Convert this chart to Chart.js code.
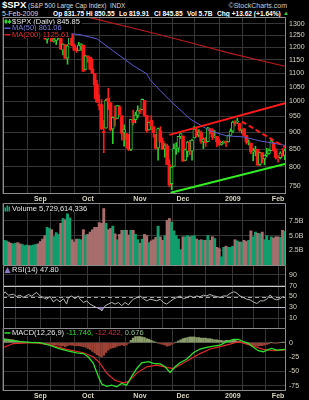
<!DOCTYPE html>
<html>
<head>
<meta charset="utf-8">
<script src="https://cdn.jsdelivr.net/npm/chart.js@4.4.1/dist/chart.umd.min.js"></script>
<style>
  html, body { margin: 0; padding: 0; background: #000; }
  body { position: relative; width: 309px; height: 400px; overflow: hidden; font-family: "Liberation Sans", Arial, sans-serif; }
  .t { position: absolute; white-space: nowrap; line-height: 7px; font-size: 7px; color: #ddd; }
  .b { font-weight: bold; color: #fff; font-size: 6.6px; }
  canvas { position: absolute; left: 0; }
</style>
</head>
<body>
<div class="t" style="left:2px;top:0px;font-size:9.5px;line-height:10px;font-weight:bold;color:#fff">$SPX</div>
<div class="t" style="left:28px;top:2px;font-size:6.4px">(S&amp;P 500 Large Cap Index)</div>
<div class="t" style="left:110px;top:2px;font-size:6.4px">INDX</div>
<div class="t" style="right:22px;top:2px;color:#ccc">©StockCharts.com</div>
<div class="t" style="left:2px;top:9.5px">5-Feb-2009</div>
<div class="t b" style="left:53px;top:9.5px">Op 831.75</div>
<div class="t b" style="left:86px;top:9.5px">Hi 850.55</div>
<div class="t b" style="left:119px;top:9.5px">Lo 819.91</div>
<div class="t b" style="left:154px;top:9.5px">Cl 845.85</div>
<div class="t b" style="left:187px;top:9.5px">Vol 5.7B</div>
<div class="t b" style="left:217px;top:9.5px">Chg +13.62 (+1.64%)</div>
<div class="t" style="left:283px;top:9.5px;color:#2ecc2e;font-size:6px">▲</div>

<canvas id="price" width="309" height="187" style="top:16px"></canvas>
<canvas id="vol" width="309" height="63" style="top:202px"></canvas>
<canvas id="rsi" width="309" height="64" style="top:264px"></canvas>
<canvas id="macd" width="309" height="73" style="top:327px"></canvas>

<script>
// trading days, 8 Aug 2008 .. 5 Feb 2009
const dates = [
  '8/8','8/11','8/12','8/13','8/14','8/15','8/18','8/19','8/20','8/21','8/22','8/25','8/26','8/27','8/28','8/29',
  '9/2','9/3','9/4','9/5','9/8','9/9','9/10','9/11','9/12','9/15','9/16','9/17','9/18','9/19','9/22','9/23','9/24','9/25','9/26','9/29','9/30',
  '10/1','10/2','10/3','10/6','10/7','10/8','10/9','10/10','10/13','10/14','10/15','10/16','10/17','10/20','10/21','10/22','10/23','10/24','10/27','10/28','10/29','10/30','10/31',
  '11/3','11/4','11/5','11/6','11/7','11/10','11/11','11/12','11/13','11/14','11/17','11/18','11/19','11/20','11/21','11/24','11/25','11/26','11/28',
  '12/1','12/2','12/3','12/4','12/5','12/8','12/9','12/10','12/11','12/12','12/15','12/16','12/17','12/18','12/19','12/22','12/23','12/24','12/26','12/29','12/30','12/31',
  '1/2','1/5','1/6','1/7','1/8','1/9','1/12','1/13','1/14','1/15','1/16','1/20','1/21','1/22','1/23','1/26','1/27','1/28','1/29','1/30',
  '2/2','2/3','2/4','2/5'
];

const opens = [
  1266.3,1294.4,1304.8,1288.6,1282.1,1293.0,1298.1,1276.7,1267.3,1271.1,1277.6,1290.5,1267.0,1271.3,1283.8,1296.5,
  1287.8,1276.6,1271.8,1233.2,1249.5,1267.9,1227.5,1229.0,1245.9,1250.9,1188.3,1210.3,1157.1,1213.1,1255.4,1207.6,1188.8,1187.9,1204.5,1209.1,1113.8,
  1164.2,1160.6,1115.2,1097.6,1057.6,988.9,988.4,902.3,912.8,1010.0,994.6,910.0,942.3,943.5,980.4,951.7,899.1,895.2,874.3,848.9,939.5,939.4,953.1,
  968.7,971.3,1001.8,952.4,907.4,936.8,917.2,893.4,853.1,904.4,873.2,852.3,859.0,805.9,755.8,801.2,853.4,852.9,886.9,
  888.6,817.9,843.6,869.8,844.4,882.7,906.5,892.2,898.4,871.5,881.1,871.5,908.2,906.0,887.0,887.2,874.3,863.9,869.5,872.4,870.6,890.6,
  903.0,929.2,931.2,927.5,905.7,909.9,890.4,869.8,867.3,842.0,844.5,849.6,806.8,839.7,822.2,832.5,837.3,845.7,868.9,845.7,
  823.1,825.7,837.8,831.75
];
const highs = [
  1297.9,1313.2,1304.8,1294.0,1300.1,1302.0,1300.2,1276.7,1276.0,1281.0,1293.1,1290.5,1275.7,1289.3,1300.7,1296.5,
  1303.0,1280.6,1271.8,1244.9,1274.4,1268.7,1243.9,1249.1,1255.1,1250.9,1214.8,1210.3,1211.1,1265.1,1255.4,1214.1,1197.4,1221.0,1215.8,1209.1,1168.0,
  1167.0,1160.6,1153.8,1097.6,1072.9,1021.1,1005.3,936.4,1006.9,1044.3,994.6,947.7,984.4,985.4,985.4,951.7,922.8,896.3,893.8,940.5,970.0,963.2,984.4,
  975.5,1007.5,1001.8,952.4,931.5,952.0,917.2,893.4,913.0,916.9,882.3,865.9,864.6,820.5,801.2,865.6,868.9,887.7,896.3,
  888.6,850.5,873.1,875.6,879.4,918.6,916.3,908.3,904.6,883.2,884.6,914.7,911.9,911.0,905.5,887.4,880.4,869.8,873.7,873.7,891.1,910.3,
  934.7,936.6,943.9,927.5,910.0,911.9,890.4,877.0,867.3,851.6,858.1,849.6,841.7,839.7,833.0,852.5,850.5,877.9,868.9,851.7,
  830.8,842.6,851.9,850.55
];
const lows = [
  1262.1,1292.8,1285.6,1274.9,1276.8,1290.7,1274.5,1263.1,1261.2,1265.0,1277.6,1264.9,1263.2,1267.8,1283.8,1282.8,
  1272.2,1265.6,1232.8,1217.2,1247.1,1224.5,1221.6,1211.5,1233.8,1192.7,1169.3,1155.9,1133.5,1213.1,1205.6,1187.8,1179.8,1187.9,1187.5,1106.4,1113.8,
  1140.8,1111.4,1098.1,1008.0,996.2,971.0,909.2,839.8,912.8,972.1,904.0,865.8,918.7,943.5,952.5,875.8,858.4,852.9,845.8,845.3,922.3,928.9,944.6,
  958.8,971.3,949.9,899.7,906.5,907.5,884.9,850.5,818.7,869.9,849.0,826.8,806.2,747.8,741.0,801.2,835.0,841.4,881.2,
  815.7,817.9,827.6,833.6,818.4,882.7,885.4,885.5,866.8,851.4,857.7,871.5,895.7,877.4,883.0,857.1,860.1,861.4,866.5,857.1,870.6,889.4,
  899.4,919.5,927.3,902.4,896.8,888.3,864.3,862.0,836.9,817.0,830.7,804.5,804.3,811.3,806.1,827.7,835.4,845.7,844.0,821.7,
  812.9,822.0,829.2,819.91
];
const closes = [
  1296.3,1305.3,1289.6,1285.8,1292.9,1298.2,1278.6,1266.7,1274.5,1277.7,1292.2,1266.8,1271.5,1281.7,1300.7,1282.8,
  1277.6,1275.0,1236.8,1242.3,1267.8,1224.5,1232.0,1249.1,1251.7,1192.7,1213.6,1156.4,1206.5,1255.1,1207.1,1188.2,1185.9,1209.2,1213.3,1106.4,1166.4,
  1161.1,1114.3,1099.2,1056.9,996.2,984.9,909.9,899.2,1003.4,998.0,907.8,946.4,940.6,985.4,955.1,896.8,908.1,876.8,848.9,940.5,930.1,954.1,968.8,
  966.3,1005.8,952.8,904.9,931.0,919.2,899.0,852.3,911.3,873.3,850.8,859.1,806.6,752.4,800.0,851.8,857.4,887.7,896.2,
  816.2,848.8,870.7,845.2,876.1,909.7,888.7,899.2,873.6,879.7,868.6,913.2,904.4,885.3,887.9,871.6,863.2,868.2,872.8,869.4,890.6,903.3,
  931.8,927.5,934.7,906.7,909.7,890.4,870.3,871.8,842.6,843.7,850.1,805.2,840.2,827.5,832.0,836.6,845.7,874.1,845.1,825.9,
  825.4,838.5,832.2,845.85
];
const prevClose = 1266.1;

// volume in billions
const volumes = [
  4.2,4.1,3.9,3.7,3.6,3.7,3.8,3.6,3.5,3.3,3.4,3.3,3.3,3.4,3.5,3.6,
  4.0,4.4,5.0,6.4,6.2,6.0,4.8,5.5,5.2,7.1,7.9,7.7,8.7,8.0,4.3,3.9,4.4,4.4,4.3,6.0,5.1,
  5.2,5.6,6.0,6.4,6.4,7.2,7.1,9.6,7.1,6.0,6.2,6.6,5.3,4.3,5.2,5.9,5.9,5.9,5.1,5.9,5.9,5.2,4.3,
  3.7,4.4,5.2,5.0,3.8,4.1,4.3,4.7,6.6,4.8,4.2,5.0,7.6,7.9,7.3,5.8,5.0,4.4,2.6,
  4.8,4.8,5.0,4.8,4.9,5.0,4.4,4.2,4.3,4.2,4.2,5.0,4.2,4.8,4.5,3.0,2.8,1.4,3.0,3.2,3.0,3.0,
  3.2,4.3,4.1,3.9,3.9,4.2,4.0,4.2,5.8,4.8,5.6,5.4,5.3,5.6,4.3,5.0,4.2,4.8,4.6,4.8,
  4.8,4.7,5.9,5.7
];

// [day index, value]
const ma50 = [[0,1268],[12,1268],[23,1263],[33.5,1253],[41,1235],[48,1187],[57,1128],[63,1097],[64.5,1075],[69,1036],[73.3,1002],[82,942],[91,904],[98.3,889],[105.5,886],[113,874],[124,861]];
const ma200 = [[20,1373],[38,1327],[64.4,1263],[82,1220],[100,1176],[124,1125.6]];
const resistance = [[73,892],[124.5,994]];
const falling = [[105,933],[124.5,854]];
const support = [[73.5,733],[124.5,809]];

const rsi = [[0,55.6],[0.4,58.6],[1.9,52.5],[4.1,54.3],[5.5,50],[7,52.5],[8.5,48],[10.7,53.7],[12.2,50.6],[13.6,55.6],[14.4,57.4],[15.8,51.2],[17.3,48],[18.8,45],[20.3,50],[21.7,40],[23.2,45],[24.7,40],[26.2,46],[27.6,36],[28.4,48],[29.8,51],[31.3,46],[32.8,51],[33.5,45],[35,39],[36.5,42],[37.9,36],[39.4,32.7],[40.9,29.6],[42.4,26.5],[43.1,23.5],[43.8,27.8],[44.6,32.7],[46,36],[47.5,39],[49,36],[50.5,39],[51.9,33],[53.4,39],[54.9,34.6],[56.3,42],[57.1,45],[58.6,48],[60,51],[61.5,46],[63,42],[64.4,45],[65.9,43.8],[67.4,42],[68.9,45],[70.3,39],[71.8,36],[73.3,40.7],[74.7,45],[76.2,48],[77.7,51],[79.2,46],[80.6,48],[82.1,51],[83.6,48],[85.1,51],[86.5,49.4],[88,52.5],[89.5,51.2],[90.9,53.7],[92.4,51.2],[93.9,50],[95.4,48],[96.8,51],[98.3,51],[99.8,55.6],[101.3,58.6],[102.4,57.4],[104.2,51],[105.7,48],[107.2,45],[108.6,43.8],[110.1,40],[111.6,37],[113.1,42],[114.5,42],[116,45],[117.5,53],[118.9,46],[120.4,43.8],[121.9,46],[123.3,50],[124,47.8]];

const macd = [[0,5.9],[2.6,4],[7,2],[12.9,0],[15.8,0],[20.3,-4.5],[23.9,-10],[27.6,-14],[32,-17.6],[35,-19],[37.2,-25],[39.4,-36],[41.6,-59],[43.1,-72],[45.3,-76],[47.5,-74],[49.7,-77],[51.9,-71],[54.1,-74],[56.3,-59],[58.6,-45],[60.8,-35],[63.7,-33],[65.9,-36],[68.9,-37],[71.1,-42],[73.3,-52],[75.5,-42],[77.7,-35],[80.6,-29],[83.6,-17.6],[86.5,-11],[89.5,-8],[92.4,-5.8],[95.4,-4.1],[98.3,1.7],[101.3,5.8],[103.5,5.8],[105.7,1.7],[107.9,-1.3],[110.1,-8],[112.3,-14],[114.5,-15.8],[116,-12.9],[118.2,-10],[120.4,-12.9],[124,-11.7]];
const signal = [[0,-8],[4,-1.5],[13,0],[20,-3.5],[27.6,-11.7],[35,-17.6],[39.4,-24.6],[42.4,-36],[45.3,-53],[49,-66],[52.7,-70],[54.9,-68],[58.6,-53],[63,-42],[67.4,-39],[71.8,-43],[74.7,-45],[78.4,-37],[82.1,-29],[86.5,-19],[91,-11],[95.4,-7],[99.8,-2.5],[103.5,1.7],[107.2,-2.5],[110.8,-7],[114.5,-11.7],[119,-14],[124,-12.4]];
const hist = [
  7,6.5,6,5.5,5,4,
  3,2,1.5,1,0.5,0.5,0,0.5,0.5,0,-0.5,
  -1,-1.5,-2,-2.5,-3,-3.5,-4,-4.5,-6,-5.5,-7,-5,-4,-4.5,-5,-5.5,-5.5,-6,-7,
  -8,-10,-12,-15,-18,-21,-23,-25,-22,-17,-13,-10,-9,-8,-6,-5,-4,-5,-4,-1,
  4,8,11,12,12,10,9,7,6,4,2,1,
  -1,-2,-3,-4,-6,-5,-3,-1,1,
  3,5,7,8,9,10,10,10,9,9,8,8,8,7,7,6,5,5,4,4,3,4,4,3,
  4,4,3,2,0,
  -1,-2,-3,-4,-5,-6,-6,-5,-5,-4,-3,-2,0,-1,-1,
  -0.5,0,0.5,0.7
];

const priceTicks = [750,800,850,900,950,1000,1050,1100,1150,1200,1250,1300];
const volumeTicks = [2.5,5,7.5];
const rsiTicks = [10,30,50,70,90];
const macdTicks = [0,-25,-50,-75];
const monthTicks = [16,37,60,79,101,121];
const monthLabels = ['Sep','Oct','Nov','Dec','2009','Feb'];
const midTicks = [5,25,47,70,89,110];

const FONT = '"Liberation Sans", Arial, sans-serif';
const GRID = '#363636', FRAME = '#8c8c8c', TXT = '#d8d4c0';
const UP = '#2ecc2e', DOWN = '#ff1a1a';

const pts = arr => arr.map(p => ({ x: p[0], y: p[1] }));
const colorOf = i => closes[i] >= (i ? closes[i - 1] : prevClose) ? UP : DOWN;

function xAxis(labels) {
  return {
    type: 'linear', min: -0.5, max: 124.5, offset: false,
    afterBuildTicks: s => { s.ticks = monthTicks.concat(midTicks).sort((a, b) => a - b).map(v => ({ value: v })); },
    ticks: {
      display: labels, autoSkip: false, maxRotation: 0, padding: 1, color: TXT,
      font: { family: FONT, size: 7, weight: 'bold' },
      callback: v => { const k = monthTicks.indexOf(v); return k < 0 ? '' : monthLabels[k]; }
    },
    grid: { color: GRID, drawTicks: false },
    border: { display: false },
    afterFit: s => { s.height = labels ? 9 : 0; s.paddingLeft = 0; s.paddingRight = 0; }
  };
}
function yAxis(type, min, max, ticks, fmt) {
  return {
    type: type, position: 'right', min: min, max: max,
    afterBuildTicks: s => { s.ticks = ticks.map(v => ({ value: v })); },
    ticks: { autoSkip: false, padding: 3, color: TXT, font: { family: FONT, size: 7 }, callback: fmt },
    grid: { color: GRID, drawTicks: false },
    border: { display: false },
    afterFit: s => { s.width = 23; s.paddingTop = 0; s.paddingBottom = 0; }
  };
}

// frame + panel title rows
function panel(rows, bottomLine) {
  return {
    id: 'panel',
    afterDraw(chart) {
      const ctx = chart.ctx, a = chart.chartArea;
      ctx.save();
      ctx.strokeStyle = FRAME; ctx.lineWidth = 1;
      ctx.beginPath();
      ctx.moveTo(a.left + 0.5, a.bottom); ctx.lineTo(a.left + 0.5, a.top + 0.5);
      ctx.lineTo(a.right - 0.5, a.top + 0.5); ctx.lineTo(a.right - 0.5, a.bottom);
      if (bottomLine) { ctx.moveTo(a.left, a.bottom - 0.5); ctx.lineTo(a.right, a.bottom - 0.5); }
      ctx.stroke();
      ctx.font = '7.5px ' + FONT; ctx.textBaseline = 'middle';
      rows.forEach(r => {
        const y = a.top + r.dy;
        let w = 0;
        r.parts.forEach(p => { w += ctx.measureText(p[0]).width; });
        ctx.fillStyle = '#000';
        ctx.fillRect(a.left + 1, y - 3.5, w + 10, 7);
        r.icon(ctx, a.left + 1, y);
        let x = a.left + 9;
        r.parts.forEach(p => { ctx.fillStyle = p[1]; ctx.fillText(p[0], x, y); x += ctx.measureText(p[0]).width; });
      });
      ctx.restore();
    }
  };
}
const lineIcon = c => (ctx, x, y) => { ctx.fillStyle = c; ctx.fillRect(x + 0.5, y - 0.5, 6, 1.5); };
const candleIcon = (ctx, x, y) => {
  ctx.fillStyle = UP;
  ctx.fillRect(x + 1.5, y - 3, 1, 6); ctx.fillRect(x + 0.5, y - 1.5, 3, 3);
  ctx.fillRect(x + 5, y - 2.5, 1, 5); ctx.fillRect(x + 4, y - 1, 3, 2.5);
};
const volIcon = (ctx, x, y) => {
  ctx.fillStyle = '#19a874';
  ctx.fillRect(x + 0.5, y - 1, 1.5, 4); ctx.fillRect(x + 2.5, y - 3, 1.5, 6); ctx.fillRect(x + 4.5, y - 2, 1.5, 5);
};
const rsiIcon = (ctx, x, y) => {
  ctx.fillStyle = '#8a78c0';
  ctx.beginPath(); ctx.moveTo(x + 0.5, y + 3); ctx.lineTo(x + 3.5, y - 3); ctx.lineTo(x + 6.5, y + 3); ctx.closePath(); ctx.fill();
};

const base = {
  responsive: false, animation: false, events: [],
  plugins: { legend: { display: false }, tooltip: { enabled: false } }
};
const line = (data, color, width, extra) => Object.assign({
  type: 'line', data: pts(data), borderColor: color, borderWidth: width, pointRadius: 0, tension: 0, fill: false
}, extra || {});

// price panel
new Chart(document.getElementById('price'), {
  type: 'bar',
  data: { datasets: [
    line(resistance, '#ff1a1a', 2, { order: 0 }),
    line(falling, '#ff1a1a', 2, { order: 0, borderDash: [5, 3] }),
    line(support, '#33ee22', 2, { order: 0 }),
    line(ma50, '#5a5ad2', 1, { order: 1 }),
    line(ma200, '#b81c1c', 1.2, { order: 1 }),
    {
      data: closes.map((c, i) => ({ x: i, y: [opens[i], c] })),
      backgroundColor: closes.map((c, i) => c > opens[i] ? '#000' : colorOf(i)),
      borderColor: closes.map((c, i) => colorOf(i)),
      borderWidth: closes.map((c, i) => c > opens[i] ? 1 : 0),
      borderSkipped: false, barThickness: 3, grouped: false, order: 2
    },
    {
      data: closes.map((c, i) => ({ x: i, y: [lows[i], highs[i]] })),
      backgroundColor: closes.map((c, i) => colorOf(i)),
      barThickness: 1, grouped: false, order: 3
    }
  ]},
  options: Object.assign({}, base, {
    layout: { padding: { left: 3, top: 1, right: 0, bottom: 0 } },
    scales: { x: xAxis(true), y: yAxis('logarithmic', 730, 1330, priceTicks, v => String(v)) }
  }),
  plugins: [panel([
    { dy: 4.5, icon: candleIcon, parts: [['$SPX (Daily) 845.85', '#e8e8e8']] },
    { dy: 11, icon: lineIcon('#5a5ad2'), parts: [['MA(50) 861.06', '#7c7ce0']] },
    { dy: 17.5, icon: lineIcon('#d02020'), parts: [['MA(200) 1125.61', '#e83030']] }
  ], true)]
});

// volume panel
new Chart(document.getElementById('vol'), {
  type: 'bar',
  data: { datasets: [{
    data: volumes.map((v, i) => ({ x: i, y: v })),
    backgroundColor: volumes.map((v, i) => colorOf(i) === UP ? '#0f9e6c' : '#a86e6e'),
    barPercentage: 1, categoryPercentage: 1
  }]},
  options: Object.assign({}, base, {
    layout: { padding: { left: 3, top: 1, right: 0, bottom: 0 } },
    scales: { x: xAxis(false), y: yAxis('linear', 0, 10.54, volumeTicks, v => v.toFixed(1) + 'B') }
  }),
  plugins: [panel([{ dy: 5.5, icon: volIcon, parts: [['Volume 5,729,614,336', '#e8e8e8']] }], false)]
});

// RSI panel
const rsiGuides = {
  id: 'rsiGuides',
  beforeDatasetsDraw(chart) {
    const ctx = chart.ctx, a = chart.chartArea, y = chart.scales.y;
    ctx.save(); ctx.lineWidth = 1;
    [[70, '#c8c8c8', []], [30, '#c8c8c8', []], [50, '#a8a8a8', [4, 3]]].forEach(g => {
      const py = Math.round(y.getPixelForValue(g[0])) + 0.5;
      ctx.strokeStyle = g[1]; ctx.setLineDash(g[2]);
      ctx.beginPath(); ctx.moveTo(a.left, py); ctx.lineTo(a.right, py); ctx.stroke();
    });
    ctx.restore();
  }
};
new Chart(document.getElementById('rsi'), {
  type: 'line',
  data: { datasets: [line(rsi, '#b4b4b4', 1, {
    fill: { target: { value: 30 }, above: 'rgba(0,0,0,0)', below: '#7a64b4' }
  })]},
  options: Object.assign({}, base, {
    layout: { padding: { left: 3, top: 1, right: 0, bottom: 0 } },
    scales: { x: xAxis(false), y: yAxis('linear', -8, 108, rsiTicks, v => String(v)) }
  }),
  plugins: [rsiGuides, panel([{ dy: 5, icon: rsiIcon, parts: [['RSI(14) 47.80', '#e8e8e8']] }], false)]
});

// MACD panel
new Chart(document.getElementById('macd'), {
  type: 'bar',
  data: { datasets: [
    line(macd, '#2fe02f', 1.3, { order: 0 }),
    line(signal, '#e02828', 1.2, { order: 1 }),
    {
      data: hist.map((v, i) => ({ x: i, y: v })),
      backgroundColor: hist.map(v => v >= 0 ? '#8c9e6c' : '#9e4236'),
      barThickness: 1.8, order: 2
    }
  ]},
  options: Object.assign({}, base, {
    layout: { padding: { left: 3, top: 1, right: 0, bottom: 0 } },
    scales: { x: xAxis(true), y: yAxis('linear', -84.2, 25.6, macdTicks, v => String(v)) }
  }),
  plugins: [panel([{ dy: 4.7, icon: lineIcon('#2fe02f'), parts: [
    ['MACD(12,26,9) ', '#e8e8e8'], ['-11.746, ', '#2fe02f'], ['-12.422, ', '#e83030'], ['0.676', '#8cc08c']
  ]}], true)]
});
</script>
</body>
</html>
